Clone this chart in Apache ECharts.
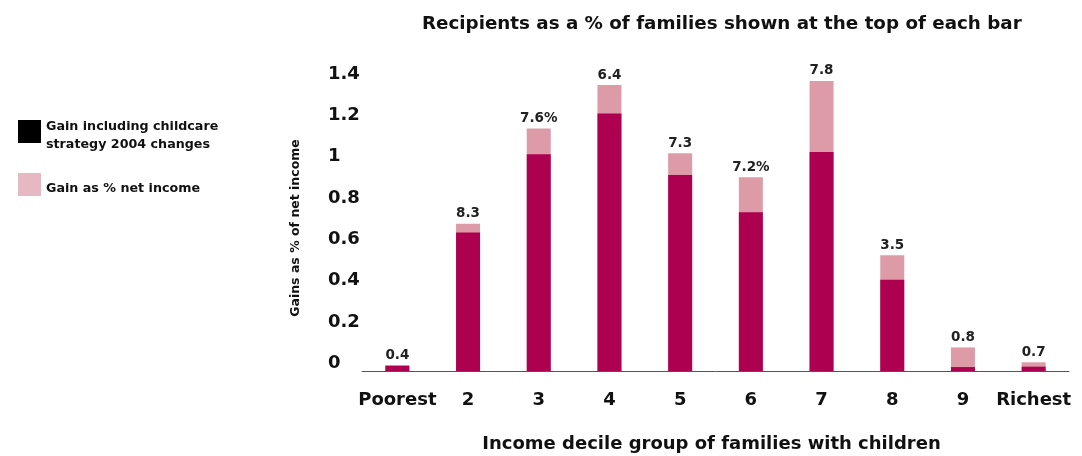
<!DOCTYPE html>
<html>
<head>
<meta charset="utf-8">
<script src="https://cdn.jsdelivr.net/npm/echarts@6/dist/echarts.min.js"></script>
<style>
html,body{margin:0;padding:0;background:#fff;}
#c{width:1082px;height:456px;}
</style>
</head>
<body>
<div id="c"></div>
<script>
const categories = ['Poorest','2','3','4','5','6','7','8','9','Richest'];
// Gain including childcare strategy 2004 changes (dark segment)
const gainChildcare = [0.026, 0.67, 1.048, 1.245, 0.947, 0.767, 1.059, 0.441, 0.019, 0.021];
// Gain as % net income (total height incl. light segment)
const gainNetIncome = [0.026, 0.712, 1.172, 1.382, 1.053, 0.936, 1.402, 0.559, 0.114, 0.042];
// Recipients as a % of families (labels on top of bars)
const recipientLabels = ['0.4','8.3','7.6%','6.4','7.3','7.2%','7.8','3.5','0.8','0.7'];
const yTicks = [0, 0.2, 0.4, 0.6, 0.8, 1, 1.2, 1.4];

const DARK = '#AE0050';
const LIGHT = '#DD9BA8';
const FONT = 'DejaVu Sans';
// square legend marker sitting at the top of a slightly taller legend slot
const LEGEND_ICON = 'path://M0,0H23V23H0Z M23,32L23,32';

const chart = echarts.init(document.getElementById('c'), null, {renderer:'canvas'});
chart.setOption({
  animation: false,
  backgroundColor: '#fff',
  title: {
    text: 'Recipients as a % of families shown at the top of each bar',
    left: 417, top: 10,
    textStyle: {fontFamily: FONT, fontWeight: 'bold', fontSize: 18.3, color: '#111'}
  },
  legend: {
    orient: 'vertical', left: 13, top: 113,
    itemWidth: 23, itemHeight: 32, itemGap: 19,
    selectedMode: false,
    textStyle: {fontFamily: FONT, fontWeight: 'bold', fontSize: 12.7, color: '#111', lineHeight: 18},
    data: [
      {name: 'Gain including childcare\nstrategy 2004 changes', icon: LEGEND_ICON, itemStyle: {color: '#000'}},
      {name: 'Gain as % net income', icon: LEGEND_ICON, itemStyle: {color: '#E5B8C3'}}
    ]
  },
  grid: {left: 362, right: 13, top: 40, bottom: 85, outerBoundsMode: 'none', containLabel: false},
  xAxis: {
    type: 'category', data: categories,
    axisLine: {show: true, lineStyle: {color: '#555', width: 1}},
    axisTick: {show: false},
    axisLabel: {margin: 20, fontFamily: FONT, fontWeight: 'bold', fontSize: 18, color: '#111', interval: 0},
    name: 'Income decile group of families with children',
    nameLocation: 'middle', nameGap: 64,
    nameTextStyle: {fontFamily: FONT, fontWeight: 'bold', fontSize: 18, color: '#111', padding: [0,8,0,0]}
  },
  yAxis: {
    type: 'value', min: 0, max: 1.6, interval: 0.2,
    axisLine: {show: false}, axisTick: {show: false}, splitLine: {show: false},
    axisLabel: {
      align: 'left', verticalAlign: 'bottom', lineHeight: 15,
      margin: 34, fontFamily: FONT, fontWeight: 'bold', fontSize: 18, color: '#111',
      formatter: function(v){ return yTicks.some(t => Math.abs(t - v) < 1e-6) ? String(Math.round(v*10)/10) : ''; }
    },
    name: 'Gains as % of net income', nameLocation: 'middle', nameGap: 60, nameRotate: 90,
    nameTextStyle: {fontFamily: FONT, fontWeight: 'bold', fontSize: 12.5, color: '#111', padding: [0,45,0,0]}
  },
  series: [
    {
      name: 'Gain as % net income', type: 'bar', data: gainNetIncome,
      barWidth: 24, barGap: '-100%', itemStyle: {color: LIGHT}, z: 2,
      label: {show: true, position: 'top', distance: 3,
        formatter: p => recipientLabels[p.dataIndex],
        fontFamily: FONT, fontWeight: 'bold', fontSize: 13.5, color: '#222'}
    },
    {
      name: 'Gain including childcare\nstrategy 2004 changes', type: 'bar', data: gainChildcare,
      barWidth: 24, barGap: '-100%', itemStyle: {color: DARK}, z: 3
    }
  ]
});
</script>
</body>
</html>
